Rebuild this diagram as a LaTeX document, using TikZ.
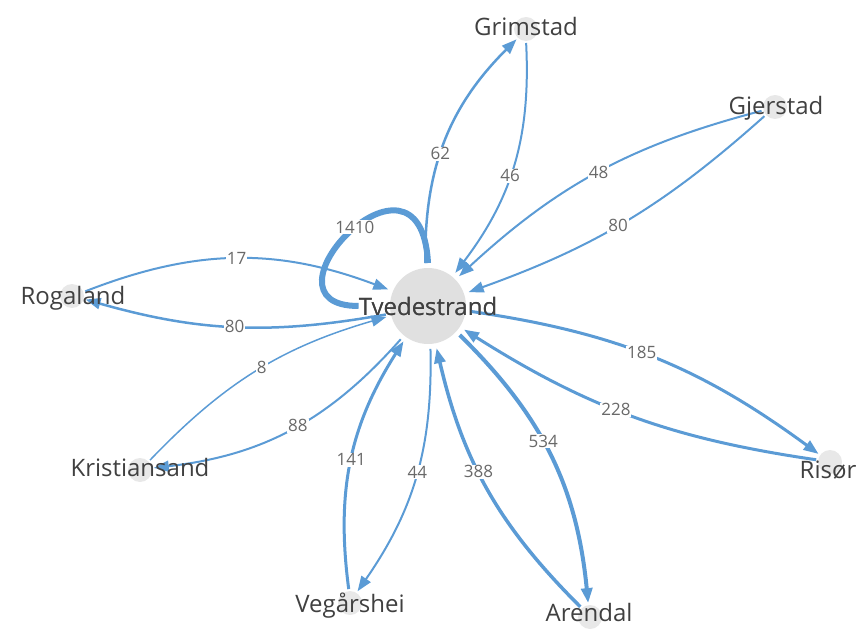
\documentclass[tikz,border=0pt]{standalone}
\usepackage{fontspec}
\setmainfont{Open Sans}
\usetikzlibrary{arrows.meta}
\definecolor{flowblue}{RGB}{91,155,213}
\definecolor{nodegrey}{RGB}{224,224,224}
\definecolor{namegrey}{RGB}{64,64,64}
\definecolor{countgrey}{RGB}{105,105,105}

\begin{document}
\begin{tikzpicture}[x=1pt, y=1pt,
  hub/.style={circle, fill=nodegrey, minimum size=76pt, inner sep=0pt, outer sep=5pt},
  town/.style={circle, fill=nodegrey!75, minimum size=24pt, inner sep=0pt, outer sep=2pt},
  place/.style={text=namegrey, font=\fontsize{24}{24}\selectfont, inner sep=0pt},
  flow/.style={draw=flowblue, line width=2pt, -{Triangle[length=15pt, width=11pt]}},
  count/.style={fill=white, text=countgrey, font=\fontsize{17}{17}\selectfont, inner sep=1pt}]

  \useasboundingbox (0,0) rectangle (864,-636);

  % Circles
  \node[hub] (T) at (428,-306) {};
  \node[town] (G) at (526,-29) {};
  \node[town] (J) at (775,-107) {};
  \node[town] (R) at (72,-296) {};
  \node[town] (K) at (140,-470) {};
  \node[town] (V) at (350,-603) {};
  \node[town] (A) at (590,-617) {};
  \node[town] (Ri) at (830,-462) {};

  % Names
  \node[place] (Tlab) at (428,-306) {Tvedestrand};

  % Self loop
  \draw[flowblue, line width=6pt] (T.north) .. controls +(93:140) and +(180:110) .. node[count, pos=0.47] {1410} (Tlab.west);

  % Grimstad
  \draw[flow, line width=2.5pt] (T) to[bend left=23] node[count, pos=0.44] {62} (G);
  \draw[flow] (G) to[bend left=20] node[count, pos=0.55] {46} (T);

  % Gjerstad
  \draw[flow] (J) to[bend right=14] node[count] {48} (T);
  \draw[flow] (J) to[bend left=11] node[count, pos=0.53] {80} (T);

  % Rogaland
  \draw[flow] (R) to[bend left=21] node[count] {17} (T);
  \draw[flow, line width=2.5pt] (T) to[bend left=13] node[count] {80} (R);

  % Kristiansand
  \draw[flow, line width=1.5pt] (K) to[bend left=15] node[count, pos=0.52] {8} (T);
  \draw[flow] (T) to[bend left=21] node[count, pos=0.47] {88} (K);

  % Vegaarshei
  \draw[flow, line width=3pt] (V) to[bend left=20] node[count] {141} (T);
  \draw[flow] (T) to[bend left=18] node[count, pos=0.48] {44} (V);

  % Arendal
  \draw[flow, line width=3.5pt] (A) to[bend left=16] node[count, pos=0.57] {388} (T);
  \draw[flow, line width=4pt] (T) to[bend left=20] node[count, pos=0.44] {534} (A);

  % Risoer
  \draw[flow, line width=3pt] (T) to[bend left=14] node[count, pos=0.46] {185} (Ri);
  \draw[flow, line width=3pt] (Ri) to[bend left=12] node[count, pos=0.55] {228} (T);

  % Town names on top
  \node[place] at (Tlab) {Tvedestrand};
  \node[place] (Glab) at (526,-27) {Grimstad};
  \node[place] (Jlab) at (776,-108) {Gjerstad};
  \node[place] (Rlab) at (73,-298) {Rogaland};
  \node[place] (Klab) at (140,-467) {Kristiansand};
  \node[place] (Vlab) at (350,-606) {Vegårshei};
  \node[place] (Alab) at (589,-612) {Arendal};
  \node[place] (Rilab) at (828,-470) {Risør};

\end{tikzpicture}
\end{document}
